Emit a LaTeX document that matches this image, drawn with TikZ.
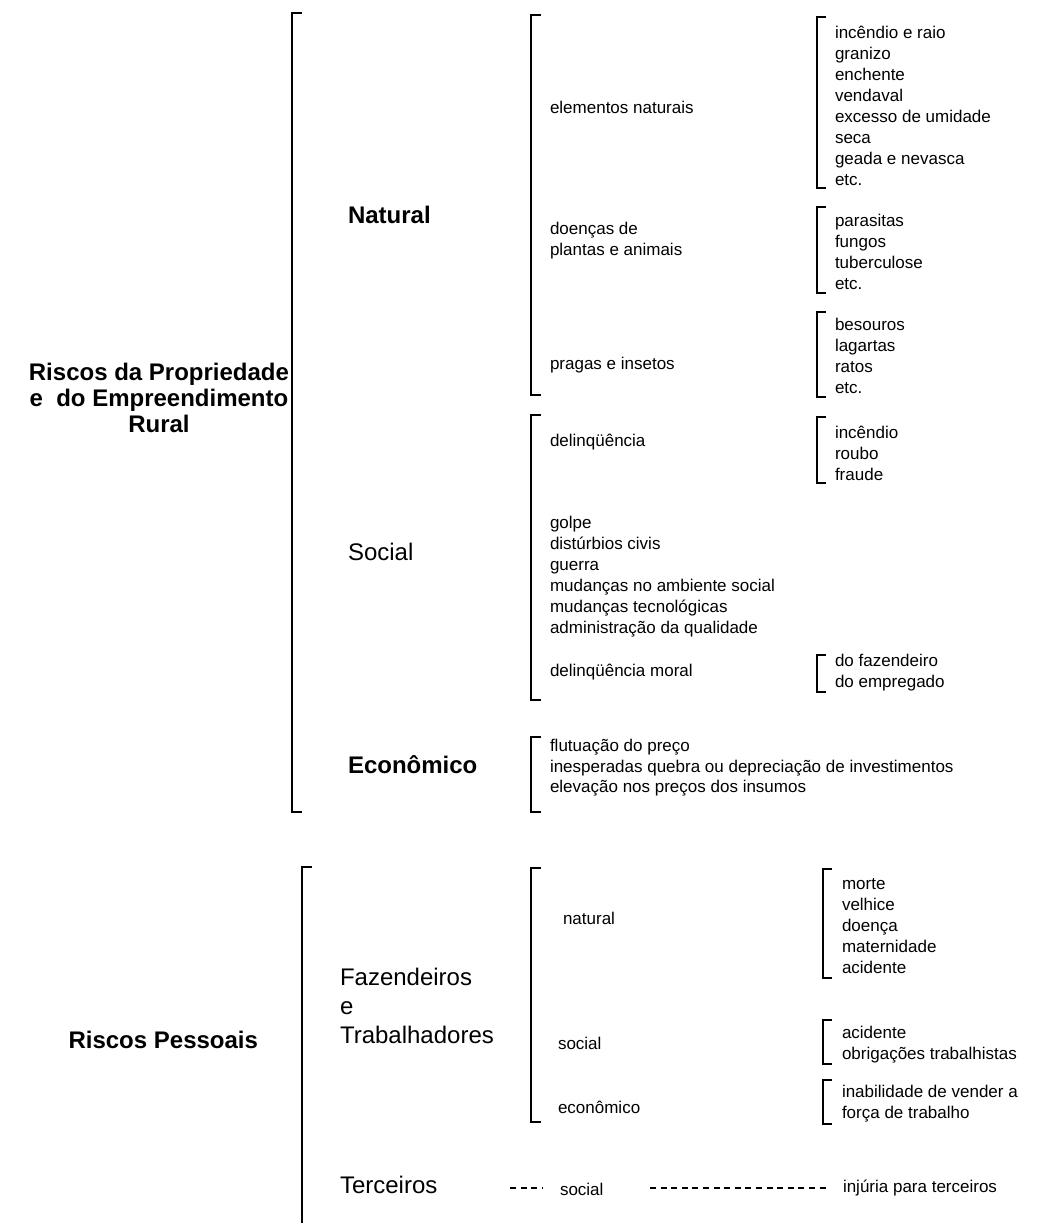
\documentclass[tikz,border=0pt]{standalone}
\usepackage{fontspec}
\setmainfont{Liberation Sans}
\begin{document}
\begin{tikzpicture}[x=1pt,y=-1pt,
  every node/.style={inner sep=0pt,outer sep=0pt},
  head/.style={anchor=west,font=\fontsize{24}{30}\selectfont\bfseries},
  headreg/.style={anchor=west,align=left,font=\fontsize{24}{29}\selectfont},
  item/.style={anchor=west,align=left,font=\fontsize{17}{21}\selectfont},
  itemsp/.style={anchor=west,align=left,font=\fontsize{17}{20.5}\selectfont},
  brace/.style={line width=1.8pt,line cap=butt},
  link/.style={line width=1.1pt,dash pattern=on 6pt off 4.6pt}]
\useasboundingbox (0,0) rectangle (1036,1223);

% bracket: x, top y, bottom y, foot length
\newcommand{\drawbracket}[4]{\draw[brace] (#1+#4,#2) -- (#1,#2) -- (#1,#3) -- (#1+#4,#3);}

% ---------- Riscos da Propriedade e do Empreendimento Rural ----------
\node[anchor=east,align=center,font=\fontsize{24}{26}\selectfont\bfseries] (prop) at (289,398)
  {Riscos da Propriedade\\e~ do Empreendimento\\Rural};
\drawbracket{292}{13}{812}{10}

% Natural
\node[head] (nat) at (348,215) {Natural};
\drawbracket{531}{15}{395}{10}
\node[item] (elem) at (550,107) {elementos naturais};
\node[item] (doen) at (550,241) {doenças de\\plantas e animais};
\node[item] (prag) at (550,365) {pragas e insetos};

\drawbracket{817}{17}{188}{9}
\node[item] (elemL) at (835,106) {incêndio e raio\\granizo\\enchente\\vendaval\\excesso de umidade\\seca\\geada e nevasca\\etc.};
\drawbracket{817}{207}{293}{9}
\node[item] (doenL) at (835,252) {parasitas\\fungos\\tuberculose\\etc.};
\drawbracket{817}{312}{397}{9}
\node[item] (pragL) at (835,356) {besouros\\lagartas\\ratos\\etc.};

% Social
\node[headreg] (soc) at (348,552) {Social};
\drawbracket{531}{415}{700}{10}
\node[item] (delq) at (550,442) {delinqüência};
\drawbracket{817}{417}{483}{9}
\node[item] (delqL) at (835,453) {incêndio\\roubo\\fraude};
\node[item] (golpe) at (550,577) {golpe\\distúrbios civis\\guerra\\mudanças no ambiente social\\mudanças tecnológicas\\administração da qualidade};
\node[item] (delqm) at (550,672) {delinqüência moral};
\drawbracket{817}{655}{692}{9}
\node[item] (delqmL) at (835,673) {do fazendeiro\\do empregado};

% Econômico
\node[head] (eco) at (348,765) {Econômico};
\drawbracket{531}{737}{812}{10}
\node[itemsp] (ecoL) at (550,768) {flutuação do preço\\inesperadas quebra ou depreciação de investimentos\\elevação nos preços dos insumos};

% ---------- Riscos Pessoais ----------
\node[anchor=east,font=\fontsize{24}{26}\selectfont\bfseries] (pess) at (258,1040) {Riscos Pessoais};
\draw[brace] (312,867) -- (302,867) -- (302,1223);

\node[headreg,font=\fontsize{24}{29}\selectfont] (faz) at (340,1006) {Fazendeiros\\e\\Trabalhadores};
\drawbracket{531}{868}{1122}{10}
\node[item] (pnat) at (563,918) {natural};
\node[item] (psoc) at (558,1043) {social};
\node[item] (peco) at (558,1107) {econômico};

\drawbracket{823}{869}{978}{9}
\node[item] (pnatL) at (842,926) {morte\\velhice\\doença\\maternidade\\acidente};
\drawbracket{823}{1020}{1064}{9}
\node[item] (psocL) at (842,1045) {acidente\\obrigações trabalhistas};
\drawbracket{823}{1080}{1124}{9}
\node[item] (pecoL) at (842,1104) {inabilidade de vender a\\força de trabalho};

% Terceiros
\node[headreg] (terc) at (340,1185) {Terceiros};
\node[item] (tsoc) at (560,1189) {social};
\node[item] (tinj) at (843,1188) {injúria para terceiros};
\coordinate (d1a) at (510,1188);
\coordinate (d2a) at (650,1188);
\coordinate (d2b) at (830,1188);
\draw[link] (d1a) -- ([xshift=-18pt]tsoc.west |- d1a);
\draw[link] (d2a) -- (d2b);
\end{tikzpicture}
\end{document}
